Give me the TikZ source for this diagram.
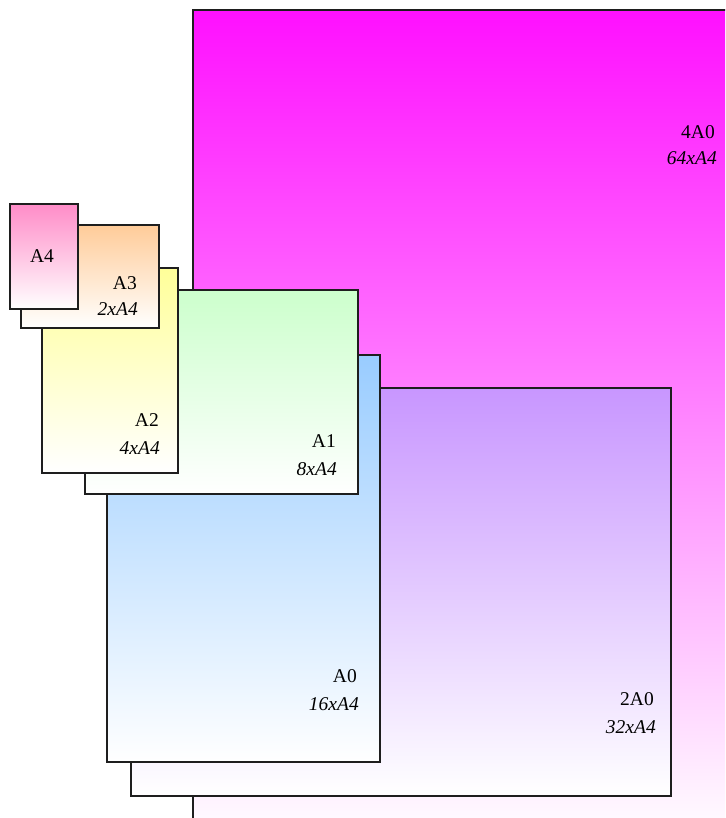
\documentclass[tikz,border=0pt]{standalone}
\usepackage{fontspec}
\setmainfont{Liberation Serif}
\definecolor{cfourA}{RGB}{255,16,255}
\definecolor{ctwoA}{RGB}{200,150,255}
\definecolor{cAzero}{RGB}{153,204,255}
\definecolor{cAone}{RGB}{204,255,204}
\definecolor{cAtwo}{RGB}{255,255,153}
\definecolor{cAthree}{RGB}{255,204,153}
\definecolor{cAfour}{RGB}{255,140,200}
\definecolor{edgecol}{RGB}{30,30,30}
\tikzset{
  sheet/.style={draw=edgecol, line width=1.4pt, anchor=north west, inner sep=0pt,
    outer sep=0pt, top color=#1, bottom color=white},
  lbl/.style={anchor=base east, inner sep=0pt, font=\fontsize{19.5}{22}\selectfont},
  ilbl/.style={lbl, font=\fontsize{19.5}{22}\selectfont\itshape},
}
\begin{document}
\begin{tikzpicture}[x=1pt,y=-1pt]
\clip (0,0) rectangle (725,818);
\fill[white] (0,0) rectangle (725,818);
% sheets, largest first
\node[sheet=cfourA, minimum width=700pt, minimum height=830pt] (s4a0) at (193,10) {};
\node[sheet=ctwoA, minimum width=540pt, minimum height=408pt] (s2a0) at (131,388) {};
\node[sheet=cAzero, minimum width=273pt, minimum height=407pt] (sa0) at (107,355) {};
\node[sheet=cAone, minimum width=273pt, minimum height=204pt] (sa1) at (85,290) {};
\node[sheet=cAtwo, minimum width=136pt, minimum height=205pt] (sa2) at (42,268) {};
\node[sheet=cAthree, minimum width=138pt, minimum height=103pt] (sa3) at (21,225) {};
\node[sheet=cAfour, minimum width=68pt, minimum height=105pt] (sa4) at (10,204) {};
% labels
\node[lbl] (t4a0) at (715,139) {4A0};
\node[ilbl] (u4a0) at (717,165) {64xA4};
\node[lbl] (t2a0) at (654,705) {2A0};
\node[ilbl] (u2a0) at (656,733) {32xA4};
\node[lbl] (ta0) at (357,682) {A0};
\node[ilbl] (ua0) at (359,710) {16xA4};
\node[lbl] (ta1) at (336,447) {A1};
\node[ilbl] (ua1) at (337,475) {8xA4};
\node[lbl] (ta2) at (159,426) {A2};
\node[ilbl] (ua2) at (160,454) {4xA4};
\node[lbl] (ta3) at (137,289) {A3};
\node[ilbl] (ua3) at (138,315) {2xA4};
\node[lbl, anchor=base] (ta4) at (42,262) {A4};
\end{tikzpicture}
\end{document}
